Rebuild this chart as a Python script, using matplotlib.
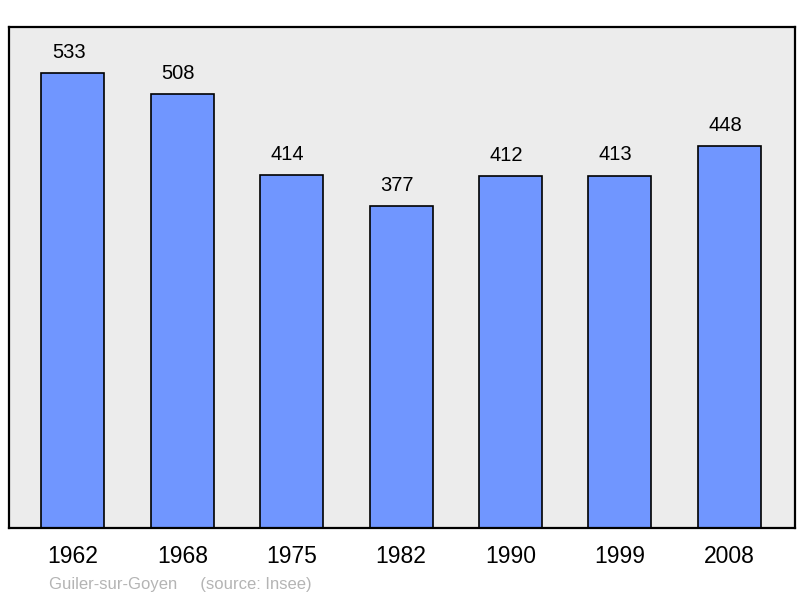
import matplotlib.pyplot as plt

# data
years = ['1962', '1968', '1975', '1982', '1990', '1999', '2008']
population = [533, 508, 414, 377, 412, 413, 448]

plt.rcParams['font.family'] = ['Liberation Sans', 'DejaVu Sans']

fig = plt.figure(figsize=(8, 5.98), dpi=100)
ax = fig.add_axes([9/800, 70/598, 786/800, 501/598])
ax.set_facecolor('#ececec')

x = range(len(years))
bars = ax.bar(x, population, width=0.575, color='#7096ff', edgecolor='black', linewidth=1.2)

for xi, v in zip(x, population):
    ax.annotate(str(v), (xi, v), xytext=(-3, 8), textcoords='offset points',
                ha='center', va='bottom', fontsize=14.5)

ax.set_xlim(-0.584, 6.6)
ax.set_ylim(0, 587)
ax.set_yticks([])
ax.set_xticks(list(x))
ax.set_xticklabels(years, fontsize=16.5)
ax.tick_params(axis='x', length=0, pad=12)
for s in ax.spines.values():
    s.set_linewidth(1.6)

fig.text(49/800, 1 - 584/598, 'Guiler-sur-Goyen     (source: Insee)', fontsize=12,
         color='#b4b4b4', va='center', ha='left')

fig.savefig('out.png', dpi=100)
